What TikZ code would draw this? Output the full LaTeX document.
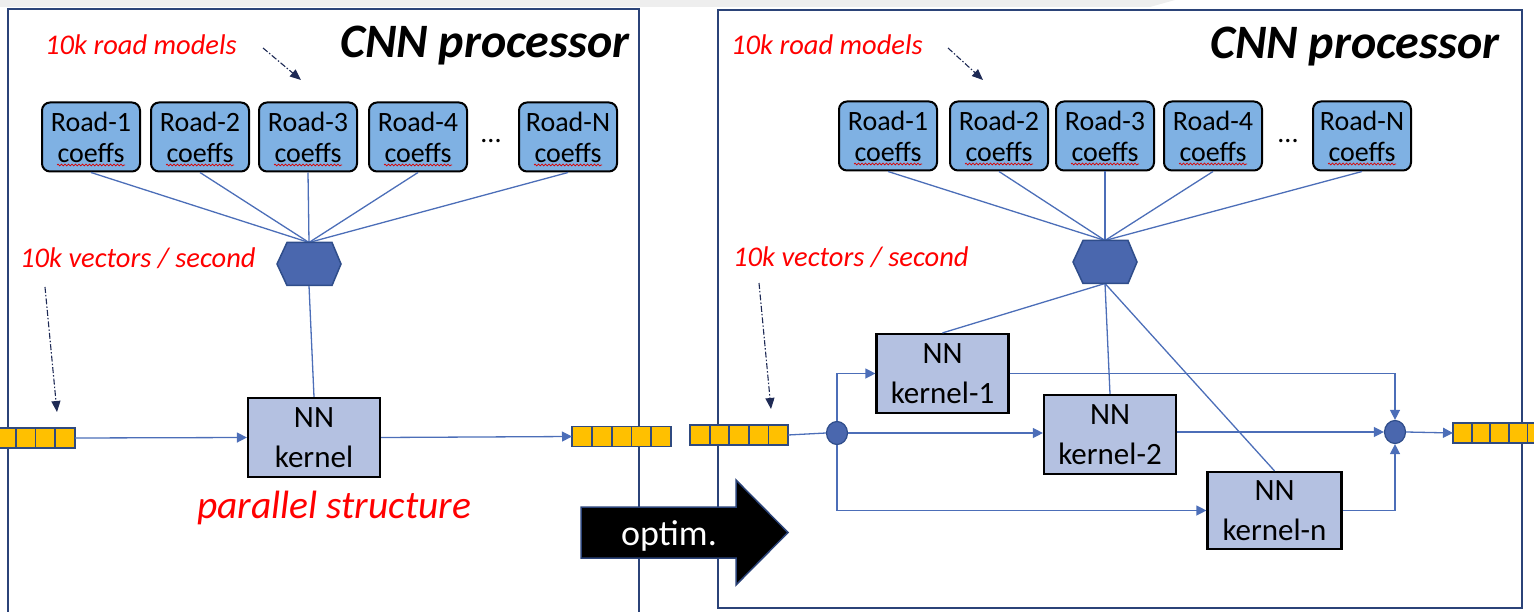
\documentclass[tikz,border=0pt]{standalone}
\usepackage{fontspec}
\setmainfont{Carlito}
\usetikzlibrary{arrows.meta,shapes.geometric,decorations.pathmorphing,calc}

\definecolor{framec}{HTML}{2B4378}
\definecolor{roadc}{HTML}{7FB1E3}
\definecolor{kernc}{HTML}{B4C1E1}
\definecolor{hexc}{HTML}{4A67AE}
\definecolor{hexedge}{HTML}{2F4D8A}
\definecolor{linec}{HTML}{4C6EB8}
\definecolor{queuec}{HTML}{FFC000}
\definecolor{queueedge}{HTML}{2F4A80}
\definecolor{hintc}{HTML}{1E2A55}
\definecolor{bandc}{HTML}{EEEEEE}

% hexagonal multiplexer drawn around an invisible anchor node
\newcommand\muxhex[1]{%
  \filldraw[fill=hexc, draw=hexedge, line width=1.5pt]
    (#1.west) -- ([xshift=10pt]#1.north west) -- ([xshift=-9pt]#1.north east)
    -- (#1.east) -- ([xshift=-9pt]#1.south east) -- ([xshift=10pt]#1.south west) -- cycle;}

% cell dividers of a FIFO queue node
\newcommand\queuecells[2]{%
  \foreach \k in {1,...,#2} {%
    \ifnum\k<#2
      \pgfmathsetmacro\cellfrac{\k/#2}
      \draw[queueedge, line width=1.8pt]
        ($(#1.north west)!\cellfrac!(#1.north east)$) -- ($(#1.south west)!\cellfrac!(#1.south east)$);
    \fi}}

\tikzset{
  frame/.style={draw=framec, line width=2.5pt},
  road/.style={rounded corners=8pt, draw=black, line width=2pt, fill=roadc,
    minimum width=98pt, minimum height=69pt, align=center, inner sep=0pt,
    font=\fontsize{28}{31}\selectfont},
  kern/.style={draw=black, line width=2.2pt, fill=kernc, minimum width=132pt,
    minimum height=79pt, align=center, inner sep=0pt,
    font=\fontsize{31}{40}\selectfont},
  hexnode/.style={minimum width=64pt, minimum height=43pt, inner sep=0pt, outer sep=0pt},
  junction/.style={ellipse, fill=hexc, draw=hexedge, line width=1.2pt,
    minimum width=21pt, minimum height=23pt, inner sep=0pt},
  queue/.style={fill=queuec, draw=queueedge, line width=1.8pt, minimum height=20pt,
    inner sep=0pt, outer sep=0pt},
  link/.style={draw=linec, line width=1.3pt},
  flow/.style={link, -{Triangle[width=10pt,length=10pt]}},
  hint/.style={draw=hintc, line width=1.1pt, dash pattern=on 6pt off 2pt on 1.5pt off 2pt,
    -{Triangle[width=9pt,length=11pt]}},
  squiggle/.style={draw=red!85!black, line width=0.7pt,
    decorate, decoration={snake, amplitude=0.9pt, segment length=3.5pt}},
  redlabel/.style={text=red, font=\itshape\fontsize{28.5}{31}\selectfont, anchor=base west, inner sep=0pt},
  title/.style={font=\bfseries\itshape\fontsize{48}{52}\selectfont, anchor=base west, inner sep=0pt},
  dots/.style={font=\fontsize{28}{30}\selectfont, anchor=base, inner sep=0pt},
  optarrow/.style={fill=black, draw=framec, line width=1.5pt},
}

\begin{document}
\begin{tikzpicture}[x=1pt,y=-1pt]
\useasboundingbox (0,0) rectangle (1534,612);
\clip (0,0) rectangle (1534,612);

% slide edge band
\fill[bandc] (0,0) -- (1175,0) -- (1150,7) -- (0,7) -- cycle;

% ================= left panel: parallel structure =================
\draw[frame] (8,9) rectangle (639,630);

\node[redlabel] (modelsL) at (45,55) {10k road models};
\node[title] (titleL) at (340,58) {CNN processor};
\coordinate (hintAL) at (263,48);
\coordinate (hintBL) at (301,80);
\draw[hint] (hintAL) -- (hintBL);

\foreach \n/\lab/\x in {rL1/1/91, rL2/2/200, rL3/3/308, rL4/4/418, rLN/N/568} {
  \node[road] (\n) at (\x,137) {Road-\lab\\coeffs};
  \draw[squiggle] ([xshift=-34pt,yshift=-28pt]\n.center) -- ([xshift=34pt,yshift=-28pt]\n.center);
}
\node[dots] (dotsL) at (491,143) {...};

\node[hexnode] (hexL) at (309,264) {};
\foreach \n in {rL1,rL2,rL3,rL4,rLN} \draw[link] (\n.south) -- (hexL.north);

\node[kern] (kL) at (314,437.5) {NN\\kernel};
\draw[link] (hexL.south) -- (kL.north);
\muxhex{hexL}

\node[redlabel] (vectorsL) at (20,268) {10k vectors / second};
\coordinate (hintCL) at (45,287);
\coordinate (hintDL) at (57,412);
\draw[hint] (hintCL) -- (hintDL);

\node[queue, minimum width=79pt] (qinL) at (35.5,438) {};
\queuecells{qinL}{4}
\node[queue, minimum width=99pt] (qoutL) at (621.5,436.5) {};
\queuecells{qoutL}{5}
\draw[flow] (qinL.east) -- (kL.west);
\draw[flow] (kL.east) -- (qoutL.west);

\node[text=red, font=\itshape\fontsize{39.5}{43}\selectfont, anchor=base west, inner sep=0pt]
  (parallel) at (197,518) {parallel structure};

% ================= right panel: optimised structure =================
\draw[frame] (718,10) rectangle (1522,608);

\node[redlabel] (modelsR) at (731,55) {10k road models};
\node[title] (titleR) at (1210,59) {CNN processor};
\coordinate (hintAR) at (948,48);
\coordinate (hintBR) at (983,80);
\draw[hint] (hintAR) -- (hintBR);

\foreach \n/\lab/\x in {rR1/1/888, rR2/2/999, rR3/3/1105, rR4/4/1213, rRN/N/1362} {
  \node[road] (\n) at (\x,136) {Road-\lab\\coeffs};
  \draw[squiggle] ([xshift=-34pt,yshift=-28pt]\n.center) -- ([xshift=34pt,yshift=-28pt]\n.center);
}
\node[dots] (dotsR) at (1288,143) {...};

\node[hexnode] (hexR) at (1105,262) {};
\foreach \n in {rR1,rR2,rR3,rR4,rRN} \draw[link] (\n.south) -- (hexR.north);

\node[kern] (k1) at (942.5,373.5) {NN\\kernel-1};
\node[kern] (k2) at (1110,434.5) {NN\\kernel-2};
\node[kern, minimum width=134pt, minimum height=77pt] (kn) at (1274.5,510.5) {NN\\kernel-n};
\draw[link] (hexR.south) -- (k1.north);
\draw[link] (hexR.south) -- (k2.north);
\draw[link] (hexR.south) -- (kn.north);
\muxhex{hexR}

\node[redlabel] (vectorsR) at (733,267) {10k vectors / second};
\coordinate (hintCR) at (759,283);
\coordinate (hintDR) at (771,409);
\draw[hint] (hintCR) -- (hintDR);

\node[queue, minimum width=98pt] (qinR) at (739,435) {};
\queuecells{qinR}{5}
\node[junction] (split) at (837,433) {};
\node[junction] (merge) at (1395,432) {};
\node[queue, minimum width=93pt] (qoutR) at (1499.5,433) {};
\queuecells{qoutR}{5}

\draw[link] (qinR.east) -- (split.west);
\draw[flow] (split.north) |- (k1.west);
\draw[flow] (split.east) -- (split.east -| k2.west);
\draw[flow] (split.south) |- (kn.west);
\draw[flow] (k1.east) -| (merge.north);
\draw[flow] (merge.west -| k2.east) -- (merge.west);
\draw[flow] (kn.east) -| (merge.south);
\draw[flow] (merge.east) -- (qoutR.west);

% ================= transition arrow, over both frames =================
\filldraw[optarrow] (581,507) -- (736,507) -- (736,480) -- (788,532.5)
  -- (736,585) -- (736,558) -- (581,558) -- cycle;
\node[text=white, font=\fontsize{36}{40}\selectfont, anchor=base west, inner sep=0pt]
  (optimlabel) at (621,545) {optim.};
\end{tikzpicture}
\end{document}
